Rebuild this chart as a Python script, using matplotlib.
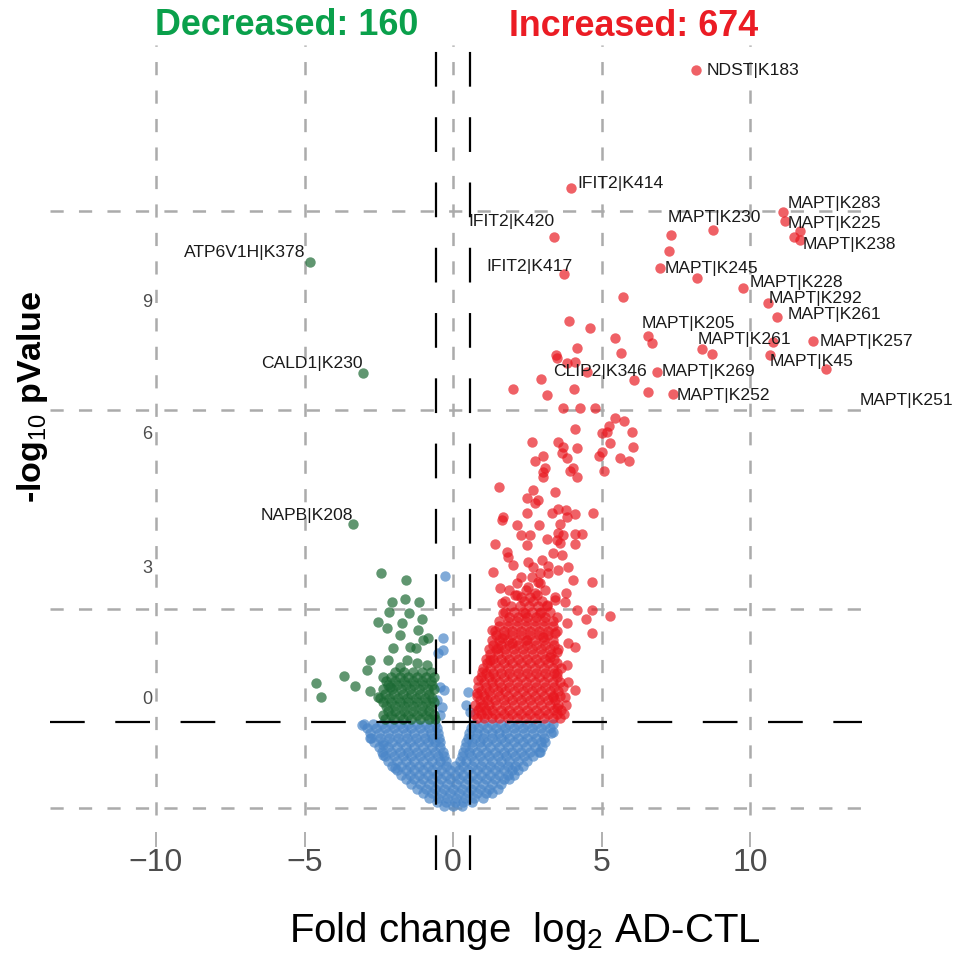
import matplotlib
matplotlib.use('Agg')
import matplotlib.pyplot as plt

plt.rcParams['font.family'] = ['Liberation Sans', 'DejaVu Sans']
plt.rcParams['mathtext.fontset'] = 'custom'
plt.rcParams['mathtext.rm'] = 'Liberation Sans'
plt.rcParams['mathtext.it'] = 'Liberation Sans:italic'
plt.rcParams['mathtext.bf'] = 'Liberation Sans:bold'
plt.rcParams['lines.scale_dashes'] = False

# counts shown in the header
n_down = 160
n_up = 674
fc_cut = 0.585   # log2(1.5)
p_cut = 1.301    # -log10(0.05)

# significant up (log2FC, -log10 p)
red_pts = [
    (8.18, 11.11), (3.97, 9.34), (3.40, 8.60), (8.75, 8.70), (7.34, 8.63), (11.11, 8.98), (11.18, 8.84),
    (11.68, 8.69), (11.48, 8.60), (11.68, 8.55), (3.74, 8.04), (7.27, 8.39), (6.97, 8.13), (8.22, 7.98),
    (9.76, 7.83), (10.61, 7.61), (10.91, 7.39), (5.72, 7.70), (6.57, 7.11), (6.70, 7.00), (8.38, 6.91),
    (8.72, 6.84), (10.77, 7.02), (12.12, 7.03), (10.67, 6.82), (12.56, 6.61), (6.87, 6.57), (7.41, 6.23),
    (3.91, 7.33), (4.61, 7.23), (5.45, 7.08), (4.18, 6.93), (3.47, 6.82), (3.50, 6.78), (5.66, 6.85),
    (4.11, 6.72), (3.84, 6.70), (4.51, 6.57), (2.96, 6.46), (6.09, 6.45), (2.02, 6.31), (4.07, 6.31),
    (3.16, 6.22), (6.57, 6.27), (3.70, 6.02), (4.28, 6.02), (4.78, 6.02),
    (5.45, 5.87), (5.76, 5.83), (5.25, 5.75), (6.03, 5.66), (5.02, 5.65), (5.19, 5.66), (4.11, 5.71),
    (2.66, 5.51), (3.54, 5.51), (3.70, 5.44), (4.18, 5.42), (5.29, 5.50), (6.06, 5.44), (3.03, 5.30),
    (3.67, 5.35), (3.84, 5.27), (5.02, 5.36), (4.92, 5.30), (2.76, 5.23), (5.62, 5.27), (5.93, 5.23),
    (3.10, 5.12), (3.03, 5.06), (3.94, 5.08), (4.04, 5.12), (4.18, 4.98), (3.03, 4.98), (5.08, 5.08),
    (1.55, 4.83), (2.69, 4.79), (3.43, 4.76), (2.49, 4.67), (2.86, 4.64), (2.76, 4.59), (1.68, 4.38),
    (1.65, 4.34), (2.49, 4.44), (3.33, 4.44), (3.54, 4.50), (3.80, 4.49), (4.11, 4.43), (3.84, 4.38),
    (4.71, 4.44), (2.15, 4.26), (2.90, 4.26), (3.60, 4.28), (2.29, 4.11), (2.59, 4.11), (3.54, 4.14),
    (3.70, 4.11), (4.11, 4.13), (4.34, 4.13), (3.16, 4.05), (3.50, 4.04), (1.41, 3.98), (2.49, 3.96),
    (3.60, 3.99), (4.11, 3.98), (1.82, 3.86), (1.85, 3.78), (3.37, 3.84), (3.67, 3.81), (2.02, 3.66),
    (2.53, 3.70), (2.69, 3.63), (3.00, 3.73), (3.20, 3.64), (3.54, 3.58), (3.87, 3.63), (1.35, 3.55),
    (2.93, 3.54), (3.20, 3.54), (2.86, 3.40), (4.04, 3.43), (4.68, 3.40), (1.58, 3.31), (2.15, 3.39),
    (2.53, 3.33), (2.76, 3.24), (2.09, 3.21), (3.43, 3.18), (3.80, 3.24),
    (2.93, 3.39), (2.15, 3.21), (2.83, 3.21), (1.65, 3.09), (3.43, 3.13), (3.16, 3.06), (3.77, 3.10),
    (4.18, 2.98), (4.68, 2.98), (5.29, 2.89), (4.48, 2.85), (4.68, 2.64), (1.31, 2.68), (1.68, 2.94),
    (2.42, 2.94), (2.93, 2.94), (3.50, 2.88), (3.84, 2.79), (3.43, 2.64), (3.87, 2.48), (4.11, 2.42),
    (1.65, 2.56), (1.52, 2.41), (1.99, 2.48), (2.49, 2.53), (3.03, 2.58), (3.27, 2.27), (3.50, 2.35),
    (1.25, 2.23), (0.98, 2.05), (3.84, 2.15), (3.50, 2.03), (3.87, 1.90), (4.11, 1.78), (0.84, 1.93),
    (0.81, 1.73), (0.91, 1.52), (3.50, 1.51), (3.37, 1.67), (3.77, 1.67),
]

# dense core of the up cloud, row by row
red_rows_y = [3.48, 3.28, 3.18, 3.12, 3.05, 2.95, 2.88, 2.81, 2.74, 2.67, 2.60, 2.53, 2.46, 2.39,
              2.32, 2.25, 2.18, 2.11, 2.04, 1.97, 1.90, 1.83, 1.76, 1.69, 1.62, 1.55, 1.48, 1.41, 1.36]
red_rows_x = [
    [2.3, 2.65],
    [1.9, 2.45, 3.1],
    [2.3, 2.6],
    [1.75, 2.4, 2.7, 3.0],
    [1.95, 2.25, 2.55, 2.85, 3.15],
    [1.75, 2.05, 2.35, 2.65, 2.95, 3.25],
    [1.9, 2.2, 2.5, 2.8, 3.1],
    [1.55, 1.85, 2.15, 2.45, 2.75, 3.05, 3.35],
    [1.55, 1.85, 2.15, 2.45, 2.75, 3.05, 3.35],
    [1.4, 1.7, 2.0, 2.3, 2.6, 2.9, 3.2, 3.5],
    [1.45, 1.7, 2.0, 2.3, 2.6, 2.9, 3.2],
    [1.3, 1.55, 1.85, 2.15, 2.45, 2.75, 3.05, 3.35],
    [1.35, 1.6, 1.9, 2.2, 2.5, 2.8, 3.1, 3.4],
    [1.2, 1.45, 1.75, 2.05, 2.35, 2.65, 2.95, 3.25, 3.55],
    [1.25, 1.5, 1.8, 2.1, 2.4, 2.7, 3.0, 3.3],
    [1.1, 1.35, 1.6, 1.9, 2.2, 2.5, 2.8, 3.1, 3.4],
    [1.15, 1.4, 1.7, 2.0, 2.3, 2.6, 2.9, 3.2, 3.5],
    [1.0, 1.25, 1.55, 1.85, 2.15, 2.45, 2.75, 3.05, 3.35, 3.65],
    [1.1, 1.35, 1.6, 1.9, 2.2, 2.5, 2.8, 3.1, 3.4],
    [0.95, 1.2, 1.4, 1.7, 2.0, 2.3, 2.6, 2.9, 3.2, 3.5],
    [1.05, 1.3, 1.55, 1.85, 2.15, 2.45, 2.75, 3.05, 3.35, 3.6],
    [0.85, 1.1, 1.35, 1.6, 1.9, 2.2, 2.5, 2.8, 3.1, 3.4, 3.7],
    [0.95, 1.2, 1.5, 1.75, 2.05, 2.35, 2.65, 2.95, 3.25, 3.55],
    [0.8, 1.05, 1.25, 1.55, 1.85, 2.15, 2.45, 2.75, 3.05, 3.35, 3.6],
    [0.9, 1.15, 1.4, 1.7, 2.0, 2.3, 2.6, 2.9, 3.2, 3.45],
    [0.75, 1.0, 1.2, 1.45, 1.75, 2.05, 2.35, 2.65, 2.95, 3.25, 3.55, 3.8],
    [0.85, 1.1, 1.3, 1.6, 1.9, 2.2, 2.5, 2.8, 3.1, 3.4, 3.65],
    [0.7, 0.95, 1.15, 1.4, 1.7, 2.0, 2.3, 2.6, 2.9, 3.2, 3.5, 3.75],
    [0.8, 1.05, 1.3, 1.55, 1.85, 2.15, 2.45, 2.75, 3.05, 3.35, 3.6],
]

# significant down
green_pts = [
    (-4.81, 8.22), (-3.03, 6.55), (-3.37, 4.28),
    (-2.42, 3.54), (-1.58, 3.43), (-2.05, 3.10), (-1.62, 3.15), (-1.14, 3.10), (-2.15, 2.95),
    (-1.48, 2.94), (-2.53, 2.80), (-2.22, 2.71), (-1.72, 2.79), (-1.04, 2.85), (-1.18, 2.68),
    (-0.84, 2.56), (-1.78, 2.61), (-2.02, 2.41), (-1.45, 2.42), (-1.25, 2.41), (-1.01, 2.53),
    (-2.79, 2.23), (-2.90, 2.08), (-2.19, 2.23), (-1.78, 2.12), (-1.55, 2.23), (-1.21, 2.18),
    (-0.88, 2.15), (-3.67, 1.99), (-3.30, 1.84), (-4.61, 1.88), (-4.44, 1.67), (-2.79, 1.76),
    (-2.53, 1.67), (-2.36, 1.97), (-2.12, 1.82),
]
green_rows_y = [2.05, 1.98, 1.92, 1.85, 1.79, 1.72, 1.66, 1.59, 1.53, 1.46, 1.40, 1.34]
green_rows_x = [
    [-1.95, -1.65, -1.35, -1.05, -0.75],
    [-2.1, -1.8, -1.5, -1.2, -0.9, -0.65],
    [-2.25, -1.95, -1.65, -1.35, -1.05, -0.75],
    [-2.2, -1.9, -1.6, -1.3, -1.0, -0.7],
    [-2.35, -2.05, -1.75, -1.45, -1.15, -0.85, -0.65],
    [-2.3, -2.0, -1.7, -1.4, -1.1, -0.8],
    [-2.45, -2.15, -1.85, -1.55, -1.25, -0.95, -0.7],
    [-2.35, -2.1, -1.8, -1.5, -1.2, -0.9, -0.65],
    [-2.25, -1.95, -1.65, -1.35, -1.05, -0.75],
    [-2.2, -1.95, -1.65, -1.35, -1.05, -0.8],
    [-2.35, -2.1, -1.8, -1.5, -1.2, -0.9, -0.65],
    [-2.3, -2.0, -1.7, -1.4, -1.1, -0.8, -0.6],
]

# not significant
blue_pts = [
    (-2.79, 1.05), (-2.36, 0.95), (-2.36, 0.80), (-1.95, 0.60), (3.37, 1.14), (2.93, 0.84),
    (-3.06, 1.25), (-0.27, 3.49), (-0.34, 2.56), (-0.34, 2.38), (-0.51, 2.33), (-0.44, 1.82),
    (-0.37, 1.52), (0.51, 1.75), (-0.54, 1.63), (-0.44, 1.40), (0.44, 1.55), (0.57, 1.45), (-0.30, 1.78),
]
blue_rows_y = [1.27, 1.20, 1.13, 1.06, 0.99, 0.92, 0.85, 0.78, 0.71, 0.64, 0.57, 0.50,
               0.43, 0.36, 0.29, 0.22, 0.15, 0.09, 0.03]
blue_rows_x = [
    [-3.0, -2.7, -2.4, -2.1, -1.8, -1.5, -1.2, -0.9, -0.6, 0.7, 1.0, 1.3, 1.6, 1.9, 2.2, 2.5, 2.8, 3.1, 3.35],
    [-2.9, -2.6, -2.3, -2.0, -1.7, -1.4, -1.1, -0.8, -0.55, 0.6, 0.85, 1.15, 1.45, 1.75, 2.05, 2.35, 2.65, 2.95, 3.25],
    [-2.8, -2.5, -2.2, -1.9, -1.6, -1.3, -1.0, -0.75, -0.5, 0.55, 0.8, 1.05, 1.3, 1.55, 1.8, 2.1, 2.4, 2.7, 3.0, 3.3],
    [-2.75, -2.45, -2.15, -1.85, -1.55, -1.25, -0.95, -0.7, -0.48, 0.5, 0.75, 1.0, 1.3, 1.6, 1.9, 2.2, 2.5, 2.8, 3.05],
    [-2.65, -2.35, -2.05, -1.75, -1.45, -1.15, -0.85, -0.62, -0.45, 0.45, 0.65, 0.9, 1.15, 1.45, 1.75, 2.05, 2.35, 2.65, 2.95, 3.1],
    [-2.5, -2.2, -1.9, -1.6, -1.3, -1.0, -0.7, -0.45, 0.4, 0.65, 0.95, 1.25, 1.55, 1.85, 2.15, 2.45, 2.75, 3.0],
    [-2.4, -2.1, -1.8, -1.5, -1.2, -0.9, -0.6, -0.35, 0.35, 0.55, 0.8, 1.1, 1.4, 1.7, 2.0, 2.3, 2.6, 2.9],
    [-2.3, -2.0, -1.7, -1.4, -1.1, -0.8, -0.5, -0.3, 0.3, 0.6, 0.9, 1.2, 1.5, 1.8, 2.1, 2.4, 2.7],
    [-2.2, -1.9, -1.6, -1.3, -1.0, -0.7, -0.45, -0.25, 0.25, 0.45, 0.7, 1.0, 1.3, 1.6, 1.9, 2.2, 2.5],
    [-2.05, -1.75, -1.45, -1.15, -0.85, -0.55, -0.25, 0.05, 0.35, 0.65, 0.95, 1.25, 1.55, 1.85, 2.1, 2.35],
    [-1.9, -1.6, -1.3, -1.0, -0.7, -0.4, -0.1, 0.2, 0.5, 0.8, 1.1, 1.4, 1.7, 2.0, 2.2],
    [-1.75, -1.45, -1.15, -0.85, -0.55, -0.25, 0.05, 0.35, 0.65, 0.95, 1.25, 1.55, 1.85, 2.05],
    [-1.6, -1.3, -1.0, -0.7, -0.4, -0.1, 0.2, 0.5, 0.8, 1.1, 1.4, 1.7, 1.9],
    [-1.4, -1.1, -0.8, -0.5, -0.2, 0.1, 0.4, 0.7, 1.0, 1.3, 1.6],
    [-1.2, -0.9, -0.6, -0.3, 0.0, 0.3, 0.6, 0.9, 1.2, 1.5],
    [-1.0, -0.7, -0.4, -0.1, 0.2, 0.5, 0.8, 1.1, 1.3],
    [-0.8, -0.5, -0.2, 0.1, 0.4, 0.7, 1.0],
    [-0.55, -0.25, 0.05, 0.35, 0.65],
    [-0.3, 0.0, 0.3],
]

# labelled sites and where their text sits
lab_names = ['NDST|K183', 'IFIT2|K414', 'IFIT2|K420', 'IFIT2|K417', 'MAPT|K230', 'MAPT|K283',
             'MAPT|K225', 'MAPT|K238', 'MAPT|K245', 'MAPT|K228', 'MAPT|K292', 'MAPT|K261',
             'MAPT|K205', 'MAPT|K261', 'MAPT|K257', 'MAPT|K45', 'CLIP2|K346', 'MAPT|K269',
             'MAPT|K252', 'MAPT|K251', 'ATP6V1H|K378', 'CALD1|K230', 'NAPB|K208']
lab_x = [8.55, 4.18, 3.43, 4.04, 7.21, 11.25, 11.25, 11.78, 7.14, 9.97, 10.61, 11.25,
         6.36, 8.25, 12.36, 10.67, 3.37, 7.04, 7.54, 13.70, -4.98, -3.06, -3.37]
lab_y = [11.11, 9.41, 8.83, 8.16, 8.90, 9.11, 8.81, 8.49, 8.13, 7.92, 7.68, 7.44,
         7.30, 7.05, 7.02, 6.72, 6.58, 6.58, 6.22, 6.14, 8.36, 6.70, 4.41]
lab_ha = ['left', 'left', 'right', 'right', 'left', 'left', 'left', 'left', 'left', 'left', 'left', 'left',
          'left', 'left', 'left', 'left', 'left', 'left', 'left', 'left', 'right', 'right', 'right']


def expand(pts, rows_y, rows_x):
    xs = [p[0] for p in pts]
    ys = [p[1] for p in pts]
    for yv, row in zip(rows_y, rows_x):
        xs += row
        ys += [yv] * len(row)
    return xs, ys


bx, by = expand(blue_pts, blue_rows_y, blue_rows_x)
gx, gy = expand(green_pts, green_rows_y, green_rows_x)
rx, ry = expand(red_pts, red_rows_y, red_rows_x)

fig = plt.figure(figsize=(9.57, 9.6), dpi=100)
ax = fig.add_axes([50 / 957, 113 / 960, 812 / 957, 837 / 960])
ax.set_xlim(-13.57, 13.77)
ax.set_ylim(-0.587, 12.02)
for s in ax.spines.values():
    s.set_visible(False)

grid_col = '#ababab'
for xv in [-10, -5, 0, 5, 10]:
    ax.plot([xv, xv], [-0.105, 11.49], color=grid_col, lw=1.8, ls=(0, (9.5, 11)), zorder=0)
for yv in [0, 3, 6, 9]:
    ax.axhline(yv, color=grid_col, lw=1.8, ls=(0, (9.5, 11)), zorder=0)

ms = 56
ax.scatter(bx, by, s=ms, color='#4A86C8', alpha=0.7, linewidths=0, zorder=2)
ax.scatter(gx, gy, s=ms, color='#1C6A34', alpha=0.7, linewidths=0, zorder=2)
ax.scatter(rx, ry, s=ms, color='#E8161E', alpha=0.68, linewidths=0, zorder=2)

ax.axhline(p_cut, color='black', lw=1.6, ls=(0, (25, 22)), zorder=3)
for xv in [-fc_cut, fc_cut]:
    ax.plot([xv, xv], [-0.93, 11.55], color='black', lw=1.6, ls=(0, (25, 22)), zorder=3, clip_on=False)

for name, tx, ty, ha in zip(lab_names, lab_x, lab_y, lab_ha):
    ax.text(tx, ty, name, ha=ha, va='center', fontsize=12.6, color='#1a1a1a', zorder=4, clip_on=False)

ax.set_xticks([-10, -5, 0, 5, 10])
ax.tick_params(axis='x', direction='in', length=10.8, width=1.3, color='#aaaaaa',
               labelsize=23, labelcolor='#4d4d4d', pad=0.5)
ax.set_yticks([1.67, 3.64, 5.65, 7.65], ['0', '3', '6', '9'])
ax.tick_params(axis='y', length=0, labelsize=13, labelcolor='#4d4d4d', pad=-73.4)

ax.set_xlabel('Fold change  log$_2$ AD-CTL', fontsize=29, color='black')
ax.xaxis.set_label_coords(0.585, -0.075)
ax.set_ylabel('-log$_{10}$ pValue', fontsize=24.5, fontweight='bold', color='black')
ax.yaxis.set_label_coords(0.0, 0.5376)

fig.text(155 / 957, 1 - 35 / 960, 'Decreased: %d' % n_down, color='#0AA04B',
         fontsize=25.8, fontweight='bold', ha='left', va='baseline')
fig.text(509 / 957, 1 - 36 / 960, 'Increased: %d' % n_up, color='#EB1C24',
         fontsize=25.8, fontweight='bold', ha='left', va='baseline')

fig.savefig('out.png', dpi=100)
